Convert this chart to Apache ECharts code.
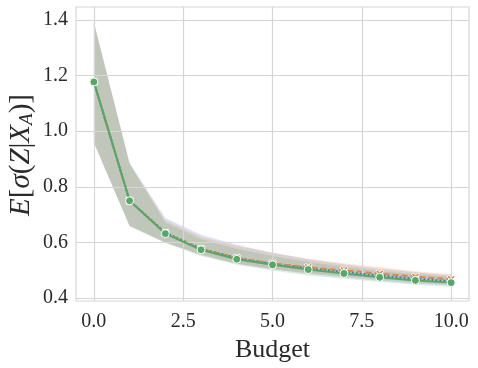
<!DOCTYPE html>
<html><head><meta charset="utf-8">
<script src="https://cdn.jsdelivr.net/npm/echarts@6/dist/echarts.min.js"></script>
<style>html,body{margin:0;padding:0;background:#fff}#c{width:478px;height:368px}</style>
</head><body><div id="c"></div>
<script>
const budget = [0,1,2,3,4,5,6,7,8,9,10];
const greenMean = [1.177,0.750,0.632,0.574,0.540,0.520,0.503,0.489,0.475,0.464,0.456];
const greenLo   = [0.958,0.658,0.598,0.552,0.520,0.500,0.482,0.470,0.458,0.448,0.441];
const greenHi   = [1.390,0.882,0.672,0.612,0.578,0.552,0.530,0.513,0.498,0.486,0.476];
const blueMean  = [1.177,0.750,0.636,0.578,0.544,0.524,0.508,0.494,0.481,0.470,0.461];
const blueLo    = [0.960,0.660,0.600,0.556,0.524,0.504,0.488,0.475,0.463,0.453,0.446];
const blueHi    = [1.392,0.886,0.688,0.628,0.592,0.563,0.540,0.521,0.506,0.493,0.482];
const orangeMean= [1.177,0.750,0.634,0.577,0.544,0.525,0.511,0.500,0.488,0.477,0.468];
const orangeLo  = [0.958,0.660,0.600,0.555,0.524,0.505,0.490,0.479,0.468,0.458,0.450];
const orangeHi  = [1.390,0.884,0.680,0.620,0.588,0.563,0.542,0.526,0.512,0.497,0.486];
const xTicks = [0,2.5,5,7.5,10];
const yTicks = [0.4,0.6,0.8,1.0,1.2,1.4];

const chart = echarts.init(document.getElementById('c'), null, {renderer:'canvas'});
const font = "'Liberation Serif','DejaVu Serif',serif";
const gridColor = '#d6d6d6';
const textColor = '#2a2a2a';

function band(lo, hi, color){
  const rows = budget.map((b,i)=>[b, lo[i], hi[i]]);
  return {
    type:'custom', silent:true, z:1,
    data: rows,
    encode:{x:0, y:[1,2]},
    renderItem:function(params, api){
      if (params.dataIndex !== 0) return null;
      const pts = [];
      rows.forEach(r=>pts.push(api.coord([r[0], r[2]])));
      for (let i=rows.length-1;i>=0;i--) pts.push(api.coord([rows[i][0], rows[i][1]]));
      return {type:'polygon', shape:{points:pts}, style:{fill:color, opacity:0.2}};
    }
  };
}
function line(mean, color, type, symbol, size, z){
  return {
    type:'line', z:z, data: budget.map((b,i)=>[b, mean[i]]),
    lineStyle:{color:color, width:2, type:type},
    itemStyle:{color:color, borderColor:'#fff', borderWidth:1},
    symbol:symbol, symbolSize:size, showSymbol:true, animation:false
  };
}
const xPath = 'path://M0,2 L2,0 L5,3 L8,0 L10,2 L7,5 L10,8 L8,10 L5,7 L2,10 L0,8 L3,5 Z';

const option = {
  animation:false,
  backgroundColor:'#fff',
  grid:{left:76, right:9, top:7, bottom:67, show:true, borderColor:gridColor, borderWidth:1.2, backgroundColor:'#fff'},
  xAxis:{type:'value', min:-0.5, max:10.5,
    axisLine:{show:false}, axisTick:{show:false}, splitLine:{show:false},
    axisLabel:{customValues:xTicks, formatter:v=>v.toFixed(1), fontFamily:font, fontSize:20, color:textColor, margin:11},
    name:'Budget', nameLocation:'middle', nameGap:30,
    nameTextStyle:{fontFamily:font, fontSize:26, color:textColor}
  },
  yAxis:{type:'value', min:0.39, max:1.446,
    axisLine:{show:false}, axisTick:{show:false}, splitLine:{show:false},
    axisLabel:{customValues:yTicks, formatter:v=>v.toFixed(1), fontFamily:font, fontSize:20, color:textColor, margin:8}
  },
  graphic:[{
    type:'text', x:21, y:155, rotation:Math.PI/2, z:10,
    style:{
      text:'{i|E}[{i|σ}({i|Z}|{i|X}{s|A})]',
      fontFamily:font, fontSize:29, fill:textColor, align:'center', verticalAlign:'middle',
      rich:{
        i:{fontStyle:'italic', fontFamily:font, fontSize:29, fill:textColor},
        s:{fontStyle:'italic', fontFamily:font, fontSize:19, fill:textColor, padding:[11,0,0,0]}
      }
    }
  }],
  series:[
    {type:'line', data:[], silent:true, z:0,
      markLine:{silent:true, symbol:['none','none'], label:{show:false},
        lineStyle:{color:gridColor, width:1.2, type:'solid'}, animation:false,
        data: xTicks.map(v=>({xAxis:v})).concat(yTicks.map(v=>({yAxis:v})))}
    },
    band(blueLo, blueHi, '#4c72b0'),
    band(orangeLo, orangeHi, '#dd8452'),
    band(greenLo, greenHi, '#55a868'),
    line(blueMean, '#4c72b0', 'dotted', 'rect', 6, 3),
    line(orangeMean, '#dd8452', [6,3], xPath, 8, 4),
    line(greenMean, '#55a868', 'solid', 'circle', 8, 5)
  ]
};
chart.setOption(option);
</script></body></html>
